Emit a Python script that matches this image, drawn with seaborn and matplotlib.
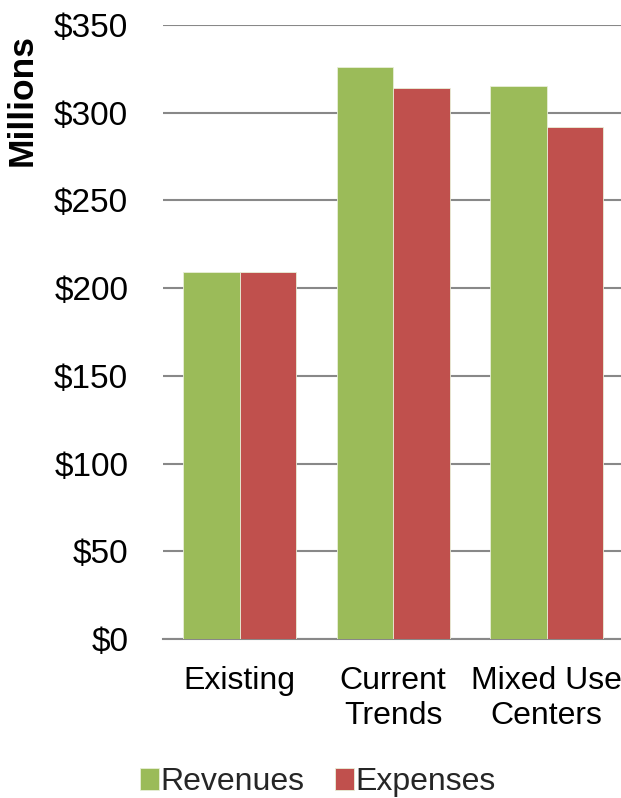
import matplotlib
matplotlib.use("Agg")
import matplotlib.pyplot as plt
import seaborn as sns
import pandas as pd
from matplotlib.ticker import FuncFormatter

# Scenario totals, in millions of dollars
categories = ["Existing", "Current\nTrends", "Mixed Use\nCenters"]
revenues = [209, 326, 315]
expenses = [209, 314, 292]
series_names = ["Revenues", "Expenses"]
y_ticks = [0, 50, 100, 150, 200, 250, 300, 350]

df = pd.DataFrame({
    "Scenario": categories * 2,
    "Value": revenues + expenses,
    "Series": [series_names[0]] * len(categories) + [series_names[1]] * len(categories),
})

sns.set_theme(style="white")
plt.rcParams["font.family"] = ["Liberation Sans", "DejaVu Sans"]

fig = plt.figure(figsize=(6.21, 7.98), dpi=100)
ax = fig.add_axes([0.2625, 0.1992, 0.7415, 0.7694])

palette = {"Revenues": "#9BBB59", "Expenses": "#C0504D"}
sns.barplot(data=df, x="Scenario", y="Value", hue="Series", order=categories,
            hue_order=series_names, palette=palette, width=0.736, gap=0,
            edgecolor="#E8EFD8", linewidth=0.6, saturation=1, ax=ax, zorder=3)

ax.set_ylim(0, 350)
ax.set_xlim(-0.5, 2.5)
ax.set_yticks(y_ticks)
ax.yaxis.set_major_formatter(FuncFormatter(lambda v, p: f"${int(v)}"))
ax.grid(axis="y", color="#888888", linewidth=1.5, zorder=0)
ax.set_axisbelow(True)
for s in ["top", "right", "left"]:
    ax.spines[s].set_visible(False)
ax.spines["bottom"].set_color("#888888")
ax.spines["bottom"].set_linewidth(1.5)

ax.tick_params(axis="y", length=0, pad=25, labelsize=24, labelcolor="black")
ax.tick_params(axis="x", length=0, pad=19.5, labelsize=23, labelcolor="black")
for lbl in ax.get_xticklabels():
    lbl.set_linespacing(1.22)
ax.set_xlabel("")
ax.set_ylabel("Millions", fontsize=25.5, fontweight="bold", color="black")
ax.yaxis.set_label_coords(-0.271, 0.878)

handles, labels = ax.get_legend_handles_labels()
ax.legend_.remove()
fig.legend(handles, labels, loc="center", bbox_to_anchor=(0.512, 0.0195),
           ncol=2, frameon=False, fontsize=23, handlelength=0.58,
           handleheight=0.7, handletextpad=0.06, columnspacing=0.95,
           borderaxespad=0, borderpad=0)

fig.savefig("out.png", dpi=100)
